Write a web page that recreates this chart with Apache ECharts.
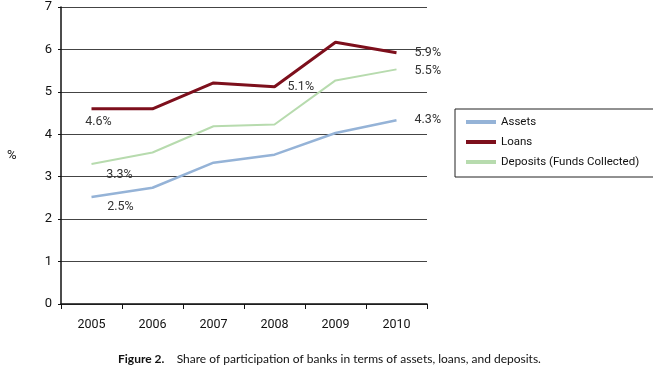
<!DOCTYPE html>
<html>
<head>
<meta charset="utf-8">
<title>Share of participation of banks</title>
<script src="https://cdn.jsdelivr.net/npm/echarts@6/dist/echarts.min.js"></script>
<style>
  html, body { margin: 0; padding: 0; background: #fff; }
  #main { width: 653px; height: 370px; }
</style>
</head>
<body>
<div id="main"></div>
<script>
// data
var years = ['2005', '2006', '2007', '2008', '2009', '2010'];
var assets = [2.52, 2.74, 3.33, 3.52, 4.03, 4.33];
var loans = [4.6, 4.6, 5.21, 5.12, 6.17, 5.92];
var deposits = [3.30, 3.57, 4.19, 4.23, 5.27, 5.53];
var yTicks = [0, 1, 2, 3, 4, 5, 6, 7];

var font = 'Roboto, "Liberation Sans", Arial, sans-serif';

// which points carry a value label, and where it sits
var assetsLabels = {0: {position: 'bottom', distance: 5, offset: [29, -2]},
                    5: {position: 'right', distance: 18, offset: [0, 0]}};
var loansLabels = {0: {position: 'bottom', distance: 5, offset: [7, 1]},
                   3: {position: 'right', distance: 13, offset: [0, 0]},
                   5: {position: 'right', distance: 18, offset: [0, 0]}};
var depositsLabels = {0: {position: 'bottom', distance: 5, offset: [28, -1]},
                      5: {position: 'right', distance: 18, offset: [0, 2]}};

function withLabels(values, labels) {
    return values.map(function (v, i) {
        var l = labels[i];
        if (!l) return v;
        return {
            value: v,
            label: {
                show: true,
                position: l.position,
                distance: l.distance,
                offset: l.offset,
                formatter: function (p) { return p.value.toFixed(1) + '%'; },
                color: '#333',
                fontFamily: font,
                fontSize: 12.5
            }
        };
    });
}

var myChart = echarts.init(document.getElementById('main'));

var option = {
    backgroundColor: '#fff',
    animation: false,
    grid: { left: 61, right: 226, top: 7, bottom: 66 },
    legend: {
        orient: 'vertical',
        left: 455,
        top: 109,
        padding: [6, 20, 8, 11],
        itemGap: 6,
        itemWidth: 30,
        itemHeight: 4,
        icon: 'rect',
        borderColor: '#222',
        borderWidth: 1,
        textStyle: { fontFamily: font, fontSize: 11.5, color: '#111', lineHeight: 14 },
        data: ['Assets', 'Loans', 'Deposits (Funds Collected)']
    },
    xAxis: {
        type: 'category',
        data: years,
        boundaryGap: true,
        axisLine: { lineStyle: { color: '#111', width: 1.5 } },
        axisTick: { show: true, length: 5, lineStyle: { color: '#111' } },
        axisLabel: { margin: 14, fontFamily: font, fontSize: 12.5, color: '#111' }
    },
    yAxis: {
        type: 'value',
        min: yTicks[0],
        max: yTicks[yTicks.length - 1],
        interval: 1,
        axisLine: { show: true, lineStyle: { color: '#111', width: 1.5 } },
        axisTick: { show: true, length: 3, lineStyle: { color: '#111' } },
        axisLabel: { margin: 9, fontFamily: font, fontSize: 13, color: '#111' },
        splitLine: { show: true, lineStyle: { color: '#444', width: 1 } }
    },
    graphic: [
        {
            type: 'text', left: 7, top: 149,
            style: { text: '%', font: '13px ' + font, fill: '#111' }
        },
        {
            type: 'text', left: 118, top: 353,
            style: {
                text: '{b|Figure 2.}    Share of participation of banks in terms of assets, loans, and deposits.',
                font: '12px Lato, "DejaVu Sans", sans-serif',
                fill: '#111',
                rich: {
                    b: { fontWeight: 'bold', fontSize: 12, fontFamily: 'Lato, "DejaVu Sans", sans-serif', fill: '#111' }
                }
            }
        }
    ],
    series: [
        {
            name: 'Assets',
            type: 'line',
            data: withLabels(assets, assetsLabels),
            symbol: 'circle',
            symbolSize: 0.1,
            lineStyle: { color: '#95b3d7', width: 2.5 },
            itemStyle: { color: '#95b3d7' }
        },
        {
            name: 'Loans',
            type: 'line',
            data: withLabels(loans, loansLabels),
            symbol: 'circle',
            symbolSize: 0.1,
            lineStyle: { color: '#7d0f1c', width: 3 },
            itemStyle: { color: '#7d0f1c' }
        },
        {
            name: 'Deposits (Funds Collected)',
            type: 'line',
            data: withLabels(deposits, depositsLabels),
            symbol: 'circle',
            symbolSize: 0.1,
            lineStyle: { color: '#b7dbae', width: 2 },
            itemStyle: { color: '#b7dbae' }
        }
    ]
};

myChart.setOption(option);
</script>
</body>
</html>
